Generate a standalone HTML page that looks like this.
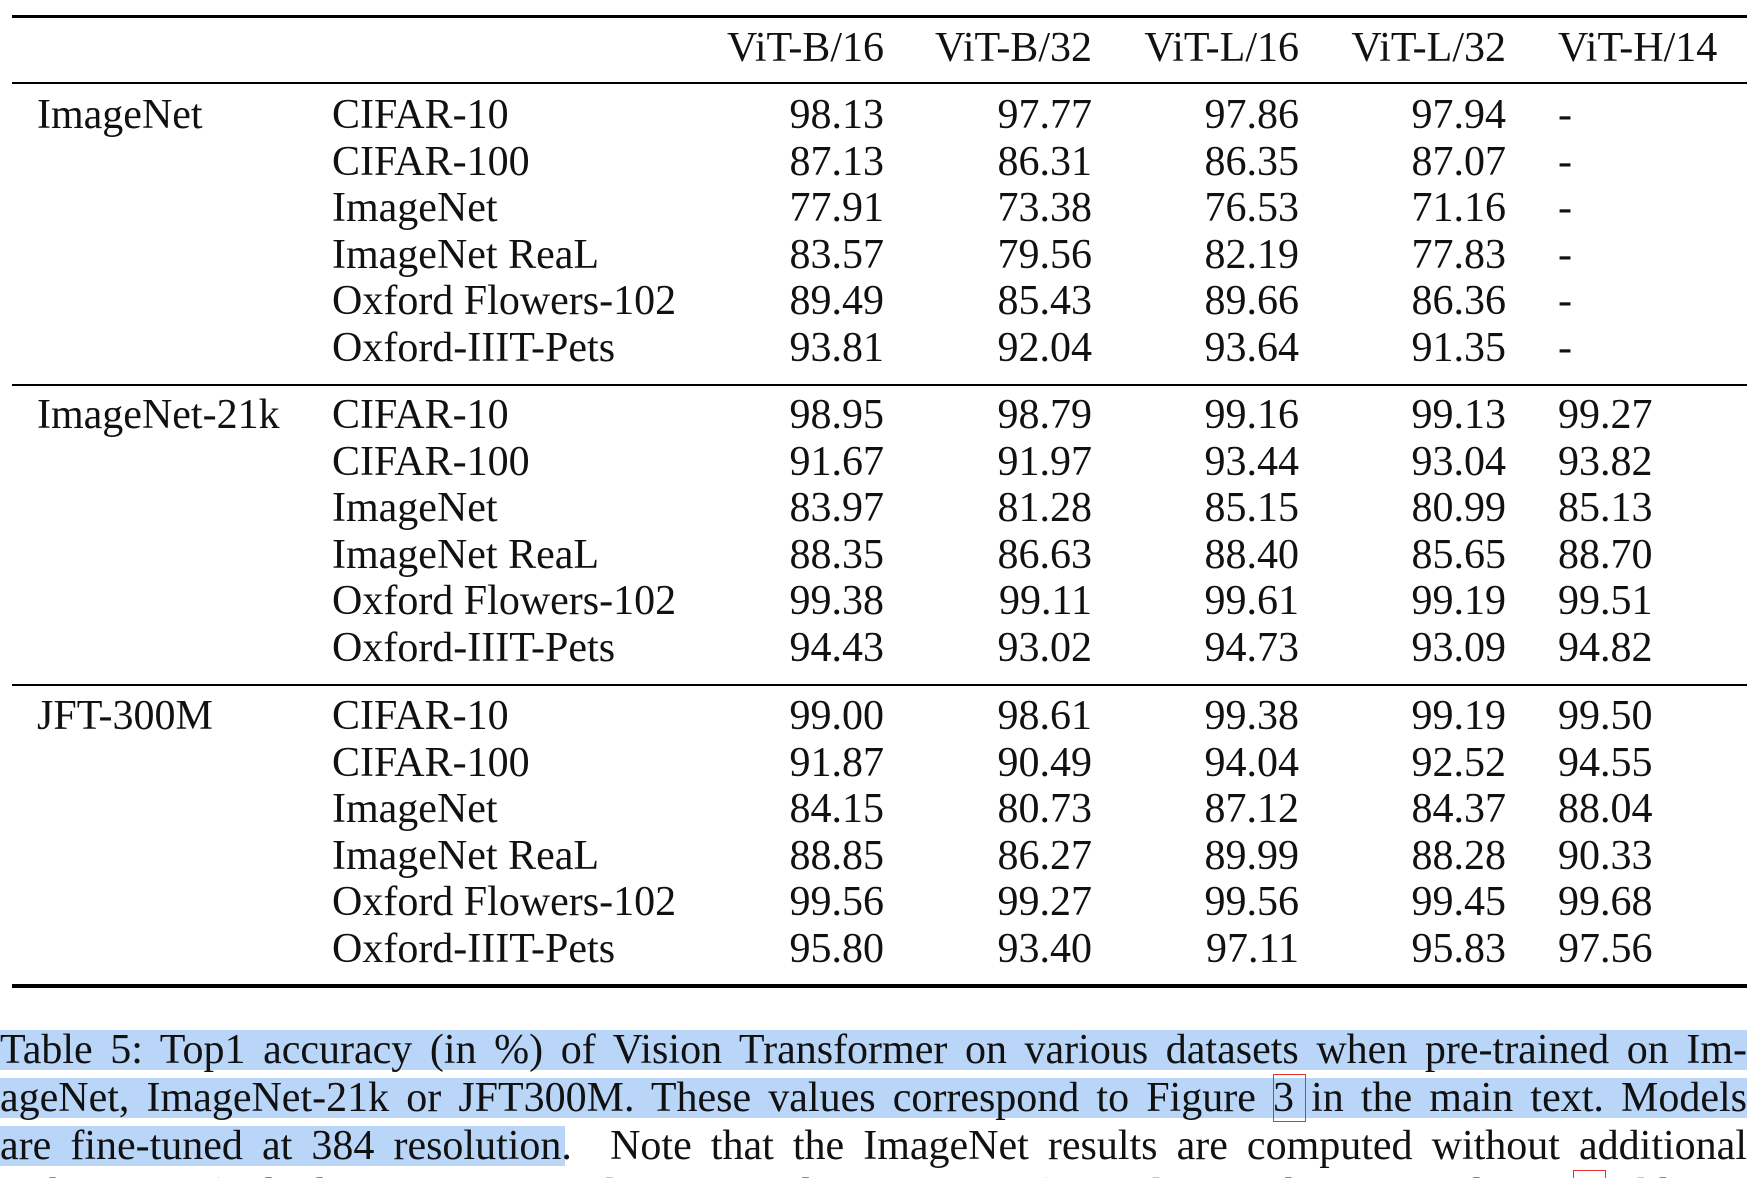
<!DOCTYPE html>
<html><head><meta charset="utf-8">
<style>
html,body{margin:0;padding:0;background:#fff;width:1750px;height:1178px;overflow:hidden;}
body{position:relative;font-family:"Liberation Serif",serif;color:#111;}
.rule{position:absolute;left:12px;width:1735px;background:#000;}
.c{position:absolute;font-size:42px;line-height:46px;white-space:nowrap;}
.r{text-align:right;}
.cap{position:absolute;left:0;width:1747px;font-size:42px;line-height:48px;text-align:justify;text-align-last:justify;white-space:nowrap;}
.hl{position:absolute;background:#b9d5f7;}
.box{position:absolute;border:1.5px solid #e0332a;}
</style></head>
<body>
<div class="rule" style="top:15px;height:3px"></div>
<div class="rule" style="top:82px;height:2px"></div>
<div class="rule" style="top:384px;height:2px"></div>
<div class="rule" style="top:684px;height:2px"></div>
<div class="rule" style="top:984px;height:3.5px"></div>
<div id="tbl"></div>

<div class="hl" style="left:0;top:1030px;width:1747px;height:40px"></div>
<div class="hl" style="left:0;top:1078px;width:1747px;height:40px"></div>
<div class="hl" style="left:0;top:1126px;width:565px;height:40px"></div>
<div class="box" style="left:1273px;top:1074px;width:31px;height:46px"></div>
<div class="box" style="left:1573px;top:1170px;width:31px;height:46px"></div>
<div class="cap" style="top:1026px">Table 5: Top1 accuracy (in %) of Vision Transformer on various datasets when pre-trained on Im-</div>
<div class="cap" style="top:1074px">ageNet, ImageNet-21k or JFT300M. These values correspond to Figure 3 in the main text. Models</div>
<div class="cap" style="top:1122px">are fine-tuned at 384 resolution. &nbsp;Note that the ImageNet results are computed without additional</div>
<div class="cap" style="top:1170px">techniques (Polyak averaging and 512 resolution images) used to achieve results in Table 2.</div>

<script>
const models = ["ViT-B/16","ViT-B/32","ViT-L/16","ViT-L/32","ViT-H/14"];
const groups = ["ImageNet","ImageNet-21k","JFT-300M"];
const datasets = ["CIFAR-10","CIFAR-100","ImageNet","ImageNet ReaL","Oxford Flowers-102","Oxford-IIIT-Pets"];
const g1 = [["98.13","97.77","97.86","97.94","-"],["87.13","86.31","86.35","87.07","-"],["77.91","73.38","76.53","71.16","-"],["83.57","79.56","82.19","77.83","-"],["89.49","85.43","89.66","86.36","-"],["93.81","92.04","93.64","91.35","-"]];
const g2 = [["98.95","98.79","99.16","99.13","99.27"],["91.67","91.97","93.44","93.04","93.82"],["83.97","81.28","85.15","80.99","85.13"],["88.35","86.63","88.40","85.65","88.70"],["99.38","99.11","99.61","99.19","99.51"],["94.43","93.02","94.73","93.09","94.82"]];
const g3 = [["99.00","98.61","99.38","99.19","99.50"],["91.87","90.49","94.04","92.52","94.55"],["84.15","80.73","87.12","84.37","88.04"],["88.85","86.27","89.99","88.28","90.33"],["99.56","99.27","99.56","99.45","99.68"],["95.80","93.40","97.11","95.83","97.56"]];
const groupVals = [g1,g2,g3];
const tbl = document.getElementById('tbl');
const rightEdges = [884,1092,1299,1506];
const hLeft = 1558;
function cell(txt, x, y, right){
  const d = document.createElement('div');
  d.className = 'c' + (right ? ' r' : '');
  d.textContent = txt;
  d.style.top = (y - 23) + 'px';
  if (right){ d.style.left = (x - 300) + 'px'; d.style.width = '300px'; }
  else d.style.left = x + 'px';
  tbl.appendChild(d);
  return d;
}
models.forEach((m,i)=>{
  const el = i < 4 ? cell(m, rightEdges[i], 48, true) : cell(m, hLeft, 48, false);
  
  
});
const groupTop = [115,415,716];
const step = 46.6;
groups.forEach((g,gi)=>{
  const gl = cell(g, 37, groupTop[gi], false);
  
  
  datasets.forEach((ds,ri)=>{
    const y = groupTop[gi] + ri*step;
    const dl = cell(ds, 332, y, false);
    
    
    groupVals[gi][ri].forEach((v,ci)=>{
      const vc = ci < 4 ? cell(v, rightEdges[ci], y, true) : cell(v, hLeft, y, false);
      
      
    });
  });
});
</script>
</body></html>
